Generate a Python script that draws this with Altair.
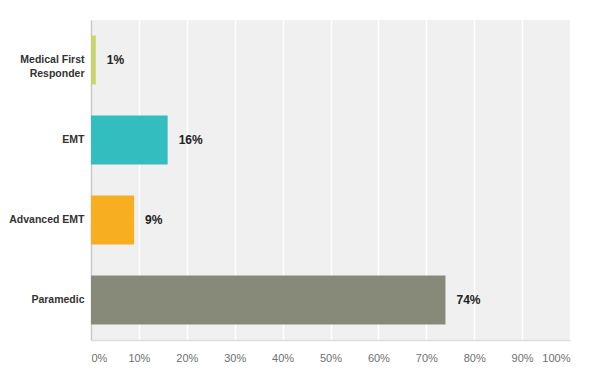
import altair as alt
import pandas as pd

categories = ["Medical First Responder", "EMT", "Advanced EMT", "Paramedic"]
values = [1, 16, 9, 74]
colors = ["#c9d46c", "#33bdbf", "#f7ae21", "#878a78"]
ticks = [0, 10, 20, 30, 40, 50, 60, 70, 80, 90, 100]

df = pd.DataFrame({"cat": categories, "val": values, "label": [f"{v}%" for v in values]})

x = alt.X("val:Q",
          scale=alt.Scale(domain=[0, 100], nice=False),
          axis=alt.Axis(values=ticks, labelExpr="datum.value + '%'", title=None,
                        grid=True, gridColor="#ffffff", gridWidth=1.5,
                        ticks=False, domainColor="#dddddd", domainWidth=1.5,
                        labelColor="#707070", labelFont="Liberation Sans", labelFontSize=11,
                        labelPadding=12, labelFlush=True))
y = alt.Y("cat:N", sort=categories,
          scale=alt.Scale(paddingInner=0.39, paddingOuter=0.195),
          axis=alt.Axis(title=None, ticks=False, domainColor="#c8c8c8", domainWidth=1.5,
                        labelColor="#333333", labelFont="Liberation Sans", labelFontSize=10.5,
                        labelFontWeight="bold", labelPadding=7, labelLimit=200,
                        labelLineHeight=14,
                        labelExpr="datum.label == 'Medical First Responder' ? ['Medical First', 'Responder'] : datum.label"))

bars = alt.Chart(df).mark_bar().encode(
    x=x, y=y,
    color=alt.Color("cat:N", scale=alt.Scale(domain=categories, range=colors), legend=None),
)
text = alt.Chart(df).mark_text(align="left", dx=11, font="Liberation Sans", fontSize=12,
                               fontWeight="bold", color="#222222").encode(
    x="val:Q", y=alt.Y("cat:N", sort=categories), text="label:N")

chart = (bars + text).properties(
    width=479, height=320,
    autosize=alt.AutoSizeParams(type="none"),
    padding={"left": 83, "top": 12, "right": 22, "bottom": 36},
).configure_view(fill="#f0f0f0", stroke=None)

chart.save("out.html", embed_options={"renderer": "svg", "actions": False})
